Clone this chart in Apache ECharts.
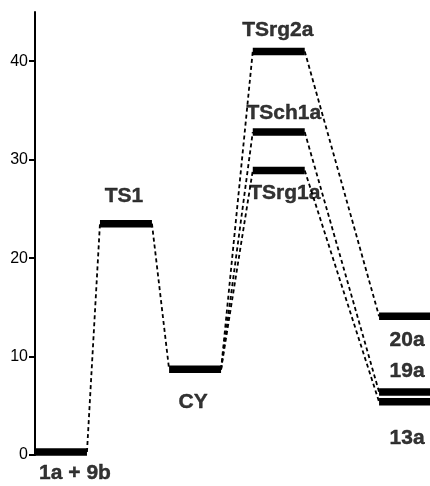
<!DOCTYPE html>
<html>
<head>
<meta charset="utf-8">
<script src="https://cdn.jsdelivr.net/npm/echarts@6/dist/echarts.min.js"></script>
<style>
  html, body { margin: 0; padding: 0; background: #fff; }
  #chart { width: 430px; height: 486px; }
</style>
</head>
<body>
<div id="chart"></div>
<script>
// energy levels (kcal/mol)
const levelNames = ['1a + 9b', 'TS1', 'CY', 'TSrg2a', 'TSch1a', 'TSrg1a', '20a', '19a', '13a'];
const levelEnergy = [0.3, 23.5, 8.7, 41.0, 32.8, 28.9, 14.1, 6.4, 5.4];
// which column (reaction step) each level sits in
const levelColumn = [0, 1, 2, 3, 3, 3, 4, 4, 4];
// start of each column along the reaction coordinate (bar width = 1)
const columnStart = [0, 1.25, 2.58, 4.19, 6.62];
// dashed connectors: from level -> to level
const links = [[0, 1], [1, 2], [2, 3], [2, 4], [2, 5], [3, 6], [4, 7], [5, 8]];
const yTicks = [0, 10, 20, 30, 40];

// label placement (pixels, relative to bar centre) - layout only
const labelOffset = [[14, 21], [-2, -27], [-2, 33], [-1, -21], [5, -19], [6, 23], [2, 24], [2, -21], [2, 36]];

const chart = echarts.init(document.getElementById('chart'));

const barSeries = levelEnergy.map((e, i) => {
  const x0 = columnStart[levelColumn[i]];
  return {
    type: 'line',
    data: [[x0, e], [x0 + 1, e]],
    symbol: 'none',
    lineStyle: { color: '#000', width: 7.5, type: 'solid' },
    silent: true,
    z: 3
  };
});

const linkSeries = links.map(([a, b]) => {
  const xa = columnStart[levelColumn[a]] + 1;
  const xb = columnStart[levelColumn[b]];
  return {
    type: 'line',
    data: [[xa, levelEnergy[a]], [xb, levelEnergy[b]]],
    symbol: 'none',
    lineStyle: { color: '#000', width: 1.8, type: [4, 3] },
    silent: true,
    z: 2
  };
});

const labelFont = {
  color: '#000',
  fontFamily: 'Liberation Sans, Arial, sans-serif',
  fontWeight: 'bold',
  fontSize: 21,
  textBorderColor: '#000',
  textBorderWidth: 0.4
};

const labelSeries = {
  type: 'scatter',
  symbolSize: 0,
  silent: true,
  data: levelEnergy.map((e, i) => ({
    value: [columnStart[levelColumn[i]] + 0.5, e],
    label: Object.assign({
      show: true,
      position: 'inside',
      offset: labelOffset[i],
      formatter: levelNames[i]
    }, labelFont)
  })),
  z: 5
};

chart.setOption({
  animation: false,
  grid: { left: 35, right: 0, top: 12, bottom: 31 },
  xAxis: {
    type: 'value', min: 0, max: 7.6,
    show: false
  },
  yAxis: {
    type: 'value', min: 0, max: 45, interval: 10,
    axisLine: { show: true, lineStyle: { color: '#000', width: 2 } },
    axisTick: { show: true, length: 6, customValues: yTicks, lineStyle: { color: '#000', width: 2 } },
    axisLabel: {
      customValues: yTicks,
      color: '#000', fontSize: 16, margin: 7,
      fontFamily: 'Liberation Sans, Arial, sans-serif'
    },
    splitLine: { show: false }
  },
  series: [...linkSeries, ...barSeries, labelSeries]
});
</script>
</body>
</html>
